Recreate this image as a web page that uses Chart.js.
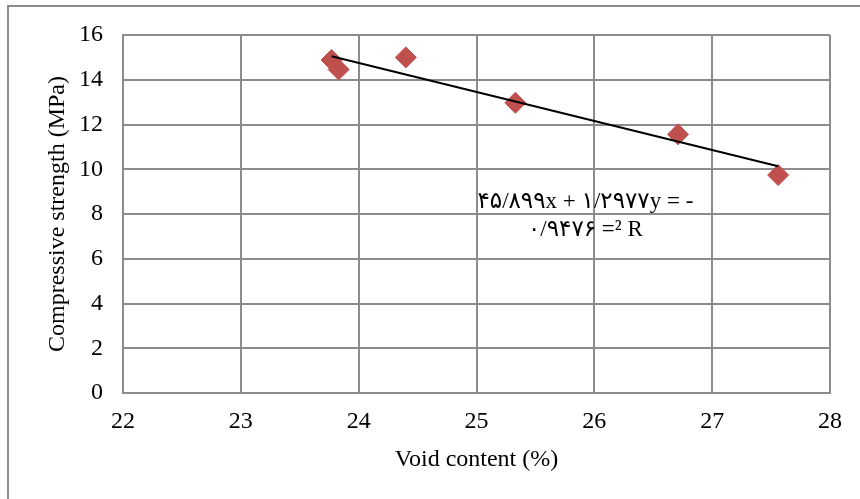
<!DOCTYPE html>
<html>
<head>
<meta charset="utf-8">
<title>Void content vs compressive strength</title>
<script src="https://cdn.jsdelivr.net/npm/chart.js@4"></script>
<style>
  body { margin: 0; background: #fff; overflow: hidden; }
  #frame {
    position: absolute; left: 7px; top: 5px; width: 900px; height: 600px;
    border-left: 2px solid #8c8c8c; border-top: 2px solid #8c8c8c;
  }
  #strengthChart { position: absolute; left: 0; top: 0; }
</style>
</head>
<body>
<div id="frame"></div>
<canvas id="strengthChart" width="860" height="499"></canvas>
<script>
// measured samples
let voidContent = [23.77, 23.83, 24.40, 25.33, 26.71, 27.56]
let strength = [14.88, 14.46, 15.0, 12.97, 11.56, 9.74]

// linear fit as printed on the chart
let slope = -1.2977
let intercept = 45.899
let rSquared = '۰/۹۴۷۶'
let eqLines = ['۴۵/۸۹۹x + ۱/۲۹۷۷y = -', rSquared + ' =² R']

let xTicks = [22, 23, 24, 25, 26, 27, 28]
let yTicks = [0, 2, 4, 6, 8, 10, 12, 14, 16]

let points = voidContent.map((x, i) => ({ x: x, y: strength[i] }))
let xMin = Math.min(...voidContent)
let xMax = Math.max(...voidContent)
let trend = [
    { x: xMin, y: slope * xMin + intercept },
    { x: xMax, y: slope * xMax + intercept }
]

const serif = '"Liberation Serif", "Times New Roman", serif'
const gridColor = '#8c8c8c'

// trendline equation, drawn under the right end of the line
const equationLabel = {
    id: 'equationLabel',
    afterDatasetsDraw(chart) {
        const ctx = chart.ctx
        const area = chart.chartArea
        const cx = area.left + (area.right - area.left) * 0.654
        ctx.save()
        ctx.fillStyle = '#000'
        ctx.textAlign = 'center'
        ctx.textBaseline = 'middle'
        ctx.font = '23px "Liberation Serif", "DejaVu Sans", serif'
        ctx.fillText(eqLines[0], cx, area.top + 167)
        ctx.fillText(eqLines[1], cx, area.top + 195)
        ctx.restore()
    }
}

var ctx = document.getElementById('strengthChart')
var strengthChart = new Chart(ctx, {
    data: {
        datasets: [{
            type: 'line',
            label: 'Linear fit',
            data: trend,
            borderColor: '#000',
            borderWidth: 2,
            pointRadius: 0,
            fill: false,
            order: 0
        }, {
            type: 'scatter',
            label: 'Compressive strength',
            data: points,
            pointStyle: 'rectRot',
            pointRadius: 10.5,
            pointBackgroundColor: '#C0504D',
            pointBorderColor: '#C0504D',
            pointBorderWidth: 1,
            order: 1
        }]
    },
    options: {
        responsive: false,
        devicePixelRatio: 1,
        animation: false,
        layout: { padding: { left: 0, top: 35, right: 30, bottom: 0 } },
        plugins: {
            legend: { display: false },
            tooltip: { enabled: false }
        },
        scales: {
            x: {
                type: 'linear',
                min: 22,
                max: 28,
                afterBuildTicks: (scale) => { scale.ticks = xTicks.map(v => ({ value: v })) },
                afterFit: (scale) => { scale.height = 106 },
                grid: { color: gridColor, lineWidth: 2, drawTicks: false },
                border: { color: gridColor, width: 2 },
                ticks: { padding: 14, color: '#000', font: { family: serif, size: 24 } },
                title: {
                    display: true,
                    text: 'Void content (%)',
                    color: '#000',
                    font: { family: serif, size: 24 },
                    padding: { top: 0, bottom: 25 }
                }
            },
            y: {
                type: 'linear',
                min: 0,
                max: 16,
                afterBuildTicks: (scale) => { scale.ticks = yTicks.map(v => ({ value: v })) },
                afterFit: (scale) => { scale.width = 123 },
                grid: { color: gridColor, lineWidth: 2, drawTicks: false },
                border: { color: gridColor, width: 2 },
                ticks: { padding: 20, color: '#000', font: { family: serif, size: 24 } },
                title: {
                    display: true,
                    text: 'Compressive strength (MPa)',
                    color: '#000',
                    font: { family: serif, size: 24 },
                    padding: { top: 43, bottom: 0 }
                }
            }
        }
    },
    plugins: [equationLabel]
})
</script>
</body>
</html>
